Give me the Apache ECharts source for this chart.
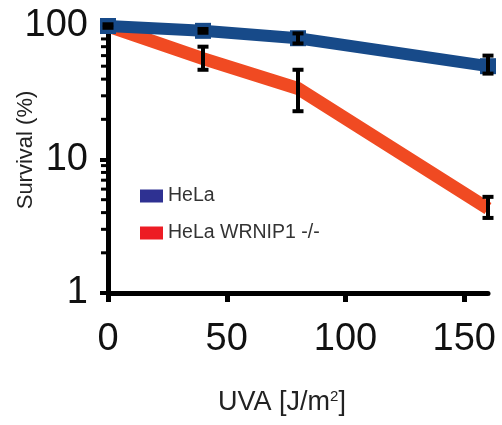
<!DOCTYPE html>
<html>
<head>
<meta charset="utf-8">
<script src="https://cdn.jsdelivr.net/npm/echarts@6/dist/echarts.min.js"></script>
<style>html,body{margin:0;padding:0;background:#fff;}#c{width:502px;height:425px;}</style>
</head>
<body>
<div id="c"></div>
<script>
const doses = [0, 40, 80, 160];
const helaMean = [100, 92, 81, 50];
const helaLow = [97, 89, 74, 44];
const helaHigh = [103, 95, 88, 60];
const koMean = [100, 57, 34, 4.3];
const koLow = [100, 47, 23, 3.65];
const koHigh = [100, 70, 47, 5.25];
const xTicks = [0, 50, 100, 150];
const yMinorTicks = [2, 3, 4, 5, 6, 7, 8, 9, 20, 30, 40, 50, 60, 70, 80, 90];
const seriesNames = ['HeLa', 'HeLa WRNIP1 -/-'];

const chart = echarts.init(document.getElementById('c'), null, {renderer: 'canvas'});
const FONT = 'Liberation Sans, Arial, sans-serif';

function errRender(params, api) {
  const x = api.value(0), lo = api.value(1), hi = api.value(2);
  const p1 = api.coord([x, hi]);
  const p2 = api.coord([x, lo]);
  return {
    type: 'group',
    children: [
      {type: 'line', shape: {x1: p1[0], y1: p1[1], x2: p2[0], y2: p2[1]}, style: {stroke: '#000', lineWidth: 4}},
      {type: 'rect', shape: {x: p1[0] - 5.5, y: p1[1] - 2, width: 11, height: 4}, style: {fill: '#000'}},
      {type: 'rect', shape: {x: p2[0] - 5.5, y: p2[1] - 2, width: 11, height: 4}, style: {fill: '#000'}}
    ]
  };
}
function minorRender(params, api) {
  const p = api.coord([api.value(0), api.value(1)]);
  return {type: 'rect', shape: {x: p[0] - 7, y: p[1] - 1.5, width: 7, height: 3}, style: {fill: '#000'}};
}

const option = {
  animation: false,
  backgroundColor: '#fff',
  grid: {left: 108, top: 26, right: 14, bottom: 132, containLabel: false, outerBoundsMode: 'none'},
  legend: {
    orient: 'vertical',
    left: 135, top: 181,
    itemWidth: 23, itemHeight: 13, itemGap: 17,
    icon: 'rect',
    textStyle: {fontFamily: FONT, fontSize: 19.5, color: '#333'},
    data: [
      {name: seriesNames[0], itemStyle: {color: '#2e3192'}},
      {name: seriesNames[1], itemStyle: {color: '#ed1c24'}}
    ]
  },
  xAxis: {
    type: 'value', min: 0, max: 160,
    name: 'UVA [J/m{s|2}]',
    nameLocation: 'middle', nameGap: 96, nameMoveOverlap: false,
    nameTextStyle: {fontFamily: FONT, fontSize: 27, color: '#222', padding: [0, 32, 0, 0],
      rich: {s: {fontFamily: FONT, fontSize: 15, color: '#222', verticalAlign: 'top', padding: [0, 0, 10, 0]}}},
    axisLine: {lineStyle: {color: '#000', width: 5}},
    axisTick: {length: 9, lineStyle: {color: '#000', width: 5}, customValues: xTicks},
    axisLabel: {fontFamily: FONT, fontSize: 38, color: '#111', margin: 28, customValues: xTicks},
    splitLine: {show: false}
  },
  yAxis: {
    type: 'log', logBase: 10, min: 1, max: 100,
    name: 'Survival (%)',
    nameLocation: 'middle', nameGap: 71, nameMoveOverlap: false,
    nameTextStyle: {fontFamily: FONT, fontSize: 22, color: '#222', padding: [0, 0, 0, 19]},
    axisLine: {lineStyle: {color: '#000', width: 5}},
    axisTick: {length: 8, lineStyle: {color: '#000', width: 4}},
    axisLabel: {fontFamily: FONT, fontSize: 38, color: '#111', margin: 20},
    splitLine: {show: false}
  },
  series: [
    {
      name: seriesNames[1], type: 'line', z: 2,
      data: doses.map((d, i) => [d, koMean[i]]),
      showSymbol: false, symbol: 'none',
      lineStyle: {color: '#f04a22', width: 13, cap: 'butt', join: 'miter'},
      itemStyle: {color: '#f04a22'}
    },
    {
      name: seriesNames[0], type: 'line', z: 3,
      data: doses.map((d, i) => [d, helaMean[i]]),
      symbol: 'rect', symbolSize: 16,
      lineStyle: {color: '#174a89', width: 12, cap: 'butt', join: 'miter'},
      itemStyle: {color: '#174a89'}
    },
    {
      type: 'custom', z: 5, clip: false, silent: true,
      renderItem: errRender,
      encode: {x: 0, y: [1, 2]},
      data: doses.map((d, i) => [d, koLow[i], koHigh[i]]).filter((r) => r[1] !== r[2])
    },
    {
      type: 'custom', z: 6, clip: false, silent: true,
      renderItem: errRender,
      encode: {x: 0, y: [1, 2]},
      data: doses.map((d, i) => [d, helaLow[i], helaHigh[i]])
    },
    {
      type: 'custom', z: 1, clip: false, silent: true,
      renderItem: minorRender,
      encode: {x: 0, y: 1},
      data: yMinorTicks.map((v) => [0, v])
    }
  ]
};
chart.setOption(option);
</script>
</body>
</html>
